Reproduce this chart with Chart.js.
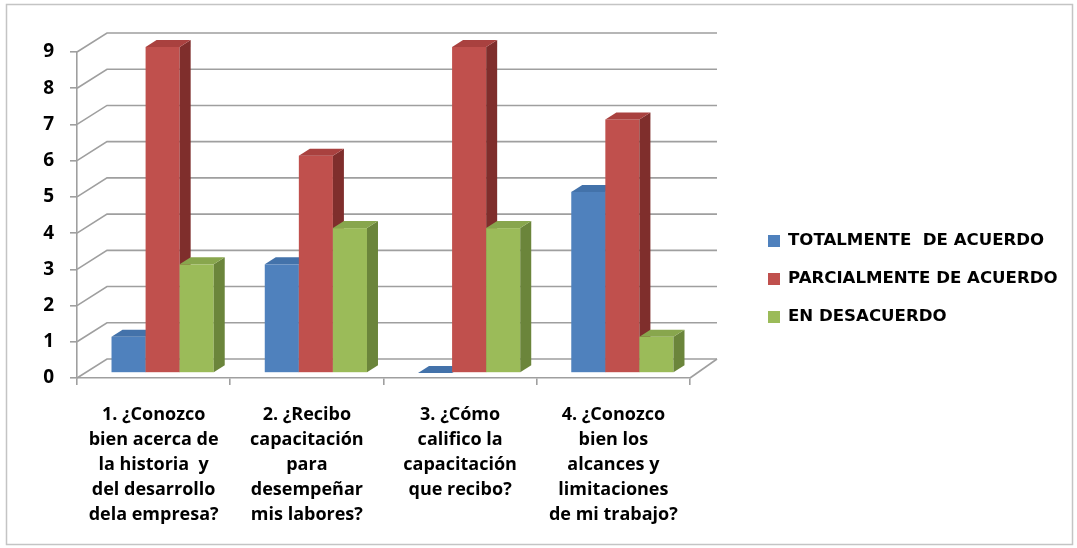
<!DOCTYPE html>
<html>
<head>
<meta charset="utf-8">
<script src="https://cdn.jsdelivr.net/npm/chart.js@4.4.1/dist/chart.umd.min.js"></script>
<style>
  html, body { margin: 0; padding: 0; background: #ffffff; }
  #wrap { position: relative; width: 1077px; height: 548px; }
</style>
</head>
<body>
<div id="wrap"><canvas id="c"></canvas></div>
<script>
// ---------- data ----------
const categories = [
  ["1. ¿Conozco", "bien acerca de", "la historia  y", "del desarrollo", "dela empresa?"],
  ["2. ¿Recibo", "capacitación", "para", "desempeñar", "mis labores?"],
  ["3. ¿Cómo", "califico la", "capacitación", "que recibo?"],
  ["4. ¿Conozco", "bien los", "alcances y", "limitaciones", "de mi trabajo?"]
];
const seriesNames = ["TOTALMENTE  DE ACUERDO", "PARCIALMENTE DE ACUERDO", "EN DESACUERDO"];
const totalmente   = [1, 3, 0, 5];
const parcialmente = [9, 6, 9, 7];
const desacuerdo   = [3, 4, 4, 1];
const yMin = 0, yMax = 9, yStep = 1;

// ---------- styles ----------
const frontColors = ["#4F81BD", "#C0504D", "#9BBB59"];
const sideColors  = ["#385D8A", "#7F2E2C", "#6B853B"];
const topColors   = ["#4372AA", "#A9413F", "#88A64D"];
const GRID = "#9f9f9f";
const WALL = { dx: 30, dy: -19 };              // back wall depth offset
const BAR  = { ox: 9, oy: -5, dx: 11, dy: -7 }; // bar placement & depth

const threeD = {
  id: "threeD",
  beforeDatasetsDraw(chart) {
    const { ctx, chartArea: a, scales: { x, y } } = chart;
    ctx.save();
    ctx.strokeStyle = GRID;
    ctx.lineWidth = 1.6;
    const backRight = a.right + 27;
    y.ticks.forEach(t => {
      const py = y.getPixelForValue(t.value);
      ctx.beginPath();
      ctx.moveTo(a.left, py);
      ctx.lineTo(a.left + WALL.dx, py + WALL.dy);
      ctx.lineTo(backRight, py + WALL.dy);
      ctx.stroke();
    });
    const p0 = y.getPixelForValue(0);
    ctx.beginPath();
    ctx.moveTo(a.right, p0);
    ctx.lineTo(backRight, p0 + WALL.dy);
    ctx.stroke();

    chart.data.datasets.forEach((ds, di) => {
      const meta = chart.getDatasetMeta(di);
      meta.data.forEach(el => {
        const p = el.getProps(["x", "y", "base", "width"], true);
        const l = p.x - p.width / 2 + BAR.ox;
        const r = p.x + p.width / 2 + BAR.ox;
        const t = Math.min(p.y, p.base) + BAR.oy;
        const b = Math.max(p.y, p.base) + BAR.oy;
        ctx.fillStyle = frontColors[di];
        ctx.fillRect(l, t, r - l, b - t);
        ctx.fillStyle = sideColors[di];
        ctx.beginPath();
        ctx.moveTo(r, t);
        ctx.lineTo(r + BAR.dx, t + BAR.dy);
        ctx.lineTo(r + BAR.dx, b + BAR.dy);
        ctx.lineTo(r, b);
        ctx.closePath();
        ctx.fill();
        ctx.fillStyle = topColors[di];
        ctx.beginPath();
        ctx.moveTo(l, t);
        ctx.lineTo(l + BAR.dx, t + BAR.dy);
        ctx.lineTo(r + BAR.dx, t + BAR.dy);
        ctx.lineTo(r, t);
        ctx.closePath();
        ctx.fill();
      });
    });
    ctx.restore();
    return false;
  }
};

const sideLegend = {
  id: "sideLegend",
  afterDraw(chart) {
    const { ctx, chartArea: a } = chart;
    ctx.save();
    ctx.font = 'bold 16.6px "DejaVu Sans", sans-serif';
    ctx.textBaseline = "middle";
    ctx.textAlign = "left";
    const step = 38;
    const x0 = a.right + 78;
    const y0 = chart.height / 2 - step + 5;
    chart.data.datasets.forEach((ds, i) => {
      const cy = y0 + i * step;
      ctx.fillStyle = ds.backgroundColor;
      ctx.fillRect(x0, cy - 6, 12, 12);
      ctx.fillStyle = "#000000";
      ctx.fillText(ds.label, x0 + 20, cy);
    });
    ctx.strokeStyle = "#c4c4c4";
    ctx.lineWidth = 1.5;
    ctx.strokeRect(6.5, 4.5, 1066, 540);
    ctx.restore();
  }
};

Chart.defaults.font.family = '"Open Sans", sans-serif';

new Chart(document.getElementById("c"), {
  type: "bar",
  data: {
    labels: categories,
    datasets: [
      { label: seriesNames[0], data: totalmente,   backgroundColor: frontColors[0] },
      { label: seriesNames[1], data: parcialmente, backgroundColor: frontColors[1] },
      { label: seriesNames[2], data: desacuerdo,   backgroundColor: frontColors[2] }
    ]
  },
  options: {
    responsive: true,
    maintainAspectRatio: false,
    animation: false,
    categoryPercentage: 0.667,
    barPercentage: 1.0,
    layout: { padding: { top: 52, right: 387, left: 0, bottom: 0 } },
    plugins: { legend: { display: false }, tooltip: { enabled: false } },
    scales: {
      x: {
        grid: { display: true, drawOnChartArea: false, color: GRID, lineWidth: 1.6, tickLength: 7 },
        border: { display: true, color: GRID, width: 1.6 },
        ticks: {
          color: "#000000",
          padding: 17,
          maxRotation: 0,
          autoSkip: false,
          font: { family: '"Open Sans", sans-serif', size: 18, weight: "bold", lineHeight: "25px" }
        },
        afterFit(scale) { scale.height = 170; }
      },
      y: {
        min: yMin,
        max: yMax,
        grid: { display: true, drawOnChartArea: false, color: GRID, lineWidth: 1.6, tickLength: 7 },
        border: { display: true, color: GRID, width: 1.6 },
        ticks: {
          stepSize: yStep,
          color: "#000000",
          padding: 16,
          font: { family: '"Open Sans", sans-serif', size: 19, weight: "bold" }
        },
        afterFit(scale) { scale.width = 77; }
      }
    }
  },
  plugins: [threeD, sideLegend]
});
</script>
</body>
</html>
